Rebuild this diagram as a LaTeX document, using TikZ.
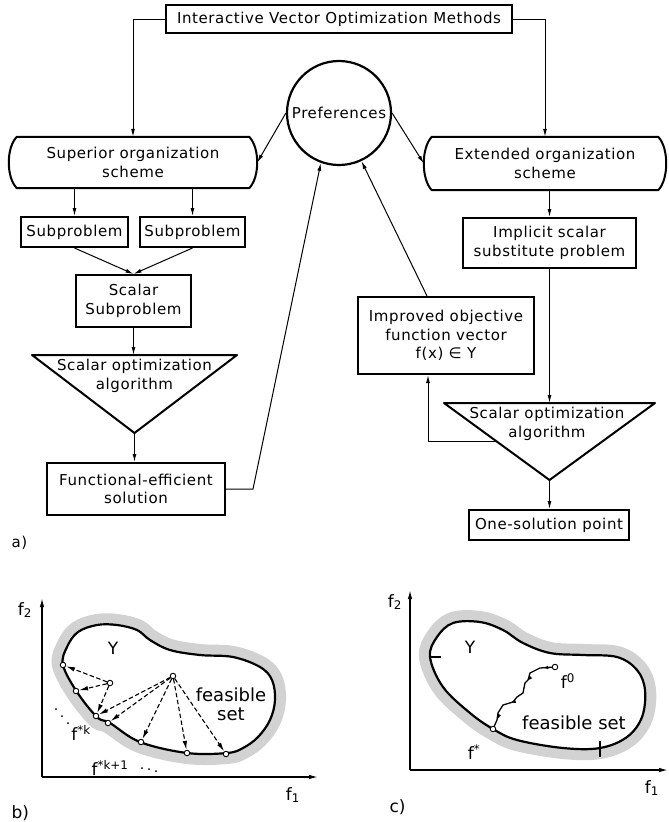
\documentclass[tikz,border=0pt]{standalone}
\usepackage{fontspec}
\setmainfont{DejaVu Sans}
\newfontfamily\chartfont[LetterSpace=4]{DejaVu Sans}
\usetikzlibrary{arrows.meta,calc,decorations.markings}
% outline with outward-bulging left and right sides, drawn round a named node
\newcommand\bulgebox[1]{%
  \draw[frame] ($(#1.north west)+(8,0)$) -- ($(#1.north east)+(-8,0)$)
    .. controls ($(#1.north east)+(2.7,11)$) and ($(#1.south east)+(2.7,-11)$) .. ($(#1.south east)+(-8,0)$)
    -- ($(#1.south west)+(8,0)$)
    .. controls ($(#1.south west)+(-2.7,-11)$) and ($(#1.north west)+(-2.7,11)$) .. cycle;}
\begin{document}
\begin{tikzpicture}[x=1pt,y=-1pt,
  txt/.style={font=\chartfont\fontsize{15}{18.5}\selectfont},
  box/.style={txt,draw,line width=2pt,inner sep=0pt,align=center},
  frame/.style={line width=2pt,line join=round},
  con/.style={line width=1pt},
  arr/.style={con,-{Latex[length=8pt,width=4pt]}},
  dasharr/.style={line width=1.1pt,dash pattern=on 4.5pt off 2.5pt,-{Latex[length=9pt,width=4.5pt]}},
  axis/.style={line width=1.3pt,-{Latex[length=9pt,width=4.5pt]}},
  pt/.style={circle,draw,fill=white,line width=0.9pt,inner sep=0pt,minimum size=5.5pt},
  dot/.style={circle,fill,inner sep=0pt,minimum size=2pt},
  big/.style={font=\fontsize{17}{19}\selectfont},
  halo/.style={line width=22pt,gray!35},
  rim/.style={line width=2.2pt}]
\useasboundingbox (0,0) rectangle (669,822);

% ================= a) flow chart =================
\node[box,minimum width=346,minimum height=28] (title) at (339,19) {Interactive Vector Optimization Methods};
\node[circle,draw,line width=2.2pt,minimum size=104,inner sep=0pt,txt] (pref) at (339,113) {Preferences};
\node[txt,minimum width=248,minimum height=51,align=center,inner sep=0pt] (sup) at (133,162.5) {Superior organization\\scheme};
\node[txt,minimum width=242,minimum height=53,align=center,inner sep=0pt] (ext) at (545,163.5) {Extended organization\\scheme};
\bulgebox{sup}
\bulgebox{ext}
\node[box,minimum width=107,minimum height=30] (sub1) at (74.5,232) {Subproblem};
\node[box,minimum width=105,minimum height=30] (sub2) at (192.5,232) {Subproblem};
\node[box,minimum width=173,minimum height=50] (impl) at (549.5,243) {Implicit scalar\\substitute problem};
\node[box,minimum width=115,minimum height=52] (ssub) at (133.5,301) {Scalar\\Subproblem};

% left optimization triangle
\coordinate (tlL) at (32,355); \coordinate (tlR) at (237,355); \coordinate (tlA) at (134.5,433);
\draw[frame] (tlL) -- (tlR) -- (tlA) -- cycle;
\node[txt,align=center] (algL) at (134.5,376) {Scalar optimization\\algorithm};
\node[box,minimum width=178,minimum height=52] (func) at (136,489) {Functional-efficient\\solution};

\node[box,minimum width=176,minimum height=77] (impr) at (446,335.5) {Improved objective\\function vector\\f(x) ∈ Y};
% right optimization triangle
\coordinate (trL) at (444,403); \coordinate (trR) at (655,403); \coordinate (trA) at (549.5,480);
\draw[frame] (trL) -- (trR) -- (trA) -- cycle;
\node[txt,align=center] (algR) at (547,424) {Scalar optimization\\algorithm};
\node[box,minimum width=160,minimum height=30] (one) at (549,525) {One-solution point};
\node[txt,anchor=west] (la) at (8,543) {a)};

% connectors
\draw[arr] (title.west) -| (sup.north);
\draw[arr] (title.east) -| (ext.north);
\draw[arr] (pref.west) -- (sup.east);
\draw[arr] (pref.east) -- (ext.west);
\draw[arr] (sup.south -| sub1) -- (sub1.north);
\draw[arr] (sup.south -| sub2) -- (sub2.north);
\draw[arr] (ext.south -| impl) -- (impl.north);
\draw[arr] (sub1.south) -- (ssub.north);
\draw[arr] (sub2.south) -- (ssub.north);
\draw[arr] (ssub.south) -- (ssub.south |- tlL);
\draw[arr] (tlA) -- (tlA |- func.north);
\draw[arr] (func.east) -- ++(27,0) -- (pref.250);
\draw[arr] ($(impr.north)+(-19,0)$) -- (pref.295);
\draw[arr] (impl.south) -- (impl.south |- trL);
\coordinate (fb) at ($(trL)!0.5!(trA)$);
\draw[arr] (fb) -| ($(impr.south)+(-18,0)$);
\draw[arr] (trA) -- (trA |- one.north);

% ================= b) =================
\def\blobB{plot[smooth cycle,tension=0.6] coordinates {(63,665) (67,647) (78,632) (97,625) (117,625) (137,630) (150,640) (170,650) (200,655) (233,657) (260,667) (272,680) (275,700) (270,720) (258,737) (243,748) (227,753) (187,753) (140,742) (110,723) (97,717) (77,692)}}
\draw[halo] \blobB;
\fill[white] \blobB;
\draw[rim] \blobB;
\coordinate (bo) at (42,777);
\draw[axis] (bo) -- (42,598);
\draw[axis] (bo) -- (318,777);
\node[big] (bf2) at (25,610) {f\textsubscript{2}};
\node[big] (bf1) at (293,795) {f\textsubscript{1}};
\node[big,anchor=west] (lb) at (8,813) {b)};
\node[big] (bY) at (113,648) {Y};
\node[big,align=center,font=\fontsize{18}{19}\selectfont] (bfs) at (231,704) {feasible\\set};

\node[pt] (p1) at (63,665) {};
\node[pt] (p2) at (76,691) {};
\node[pt] (p3) at (96,716) {};
\node[pt] (p4) at (108,723) {};
\node[pt] (p5) at (141,742) {};
\node[pt] (p6) at (187,753) {};
\node[pt] (p7) at (226,754) {};
\node[pt] (qa) at (110,683) {};
\node[pt] (qb) at (173,676) {};
\foreach \t in {p1,p2,p3} \draw[dasharr] (qa) -- (\t);
\foreach \t in {p3,p4,p5,p6,p7} \draw[dasharr] (qb) -- (\t);
\node[big] (fk) at (81,733) {f\textsuperscript{*k}};
\node[big] (fk1) at (110,768) {f\textsuperscript{*k+1}};
\foreach \x/\y in {56/709,62/716,68/723,142/768,149/769,156/771} \node[dot] at (\x,\y) {};

% ================= c) =================
\def\blobC{plot[smooth cycle,tension=0.6] coordinates {(430,657) (437,637) (453,623) (480,622) (503,630) (523,643) (550,653) (583,655) (617,657) (637,670) (645,690) (642,717) (627,737) (600,748) (563,748) (517,740) (493,729) (470,713) (443,687)}}
\draw[halo] \blobC;
\fill[white] \blobC;
\draw[rim] \blobC;
\coordinate (co) at (410,770);
\draw[axis] (co) -- (410,590);
\draw[axis] (co) -- (668,770);
\node[big] (cf2) at (395,602) {f\textsubscript{2}};
\node[big] (cf1) at (652,788) {f\textsubscript{1}};
\node[big,anchor=west] (lc) at (386,807) {c)};
\node[big] (cY) at (470,647) {Y};
\node[big,font=\fontsize{18}{19}\selectfont] (cfs) at (574,723) {feasible set};
\draw[line width=1.2pt] (430,657) -- (441,657);
\draw[line width=1.2pt] (600,741) -- (600,757);
\draw[line width=1.3pt,
  decoration={markings,
    mark=at position 0.13 with {\arrow{Latex[length=6pt,width=3.5pt]}},
    mark=at position 0.36 with {\arrow{Latex[length=6pt,width=3.5pt]}},
    mark=at position 0.66 with {\arrow{Latex[length=6pt,width=3.5pt]}},
    mark=at position 0.9 with {\arrow{Latex[length=6pt,width=3.5pt]}}},
  postaction={decorate}]
  (555,667) -- (540,668) -- (530,673) -- (528,680) -- (525,683) -- (523,693) -- (517,697) -- (513,702) -- (503,705) -- (498,713) -- (497,720) -- (493,729);
\node[pt] (f0) at (555,667) {};
\node[pt] (fs) at (493,729) {};
\node[big] (f0l) at (568,681) {f\textsuperscript{0}};
\node[big] (fsl) at (474,752) {f\textsuperscript{*}};
\end{tikzpicture}
\end{document}
